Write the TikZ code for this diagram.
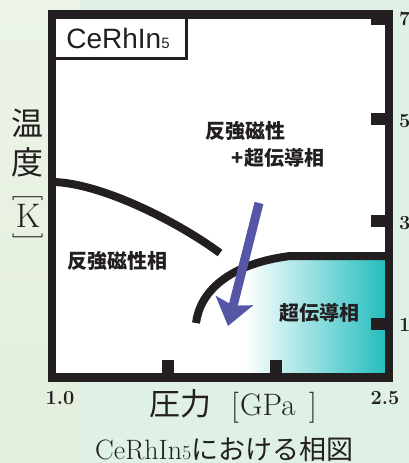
\documentclass[tikz,border=0pt]{standalone}
\usepackage{fontspec}
\newfontfamily\jp{Noto Sans CJK JP}
\newfontfamily\hel{Liberation Sans}
\usetikzlibrary{arrows.meta}
\definecolor{bgA}{HTML}{DFF0E5}
\definecolor{bgLtop}{HTML}{ECF4E9}
\definecolor{bgLbot}{HTML}{E3EEDB}
\definecolor{ink}{HTML}{231F20}
\definecolor{sccol}{RGB}{35,189,190}
\definecolor{arrowc}{RGB}{85,87,166}
\begin{document}
\begin{tikzpicture}[x=1pt,y=-1pt,
  jlabel/.style={font=\jp\bfseries\fontsize{20}{24}\selectfont, text=ink, inner sep=0},
  axnum/.style={font=\bfseries\fontsize{20}{24}\selectfont, text=ink, inner sep=0},
  plain/.style={text=ink, inner sep=0},
  boundary/.style={draw=ink, line width=8},
  tickmark/.style={fill=ink}]
\useasboundingbox (0,0) rectangle (409,463);
% background
\fill[bgA] (0,0) rectangle (409,463);
\shade[top color=bgLtop, bottom color=bgLbot] (0,0) rectangle (80,463);
% plot interior
\fill[white] (52,14.5) rectangle (389,377.5);
% superconducting region
\begin{scope}
  \clip (196,322) .. controls (200,292) and (228,264) .. (290,256) -- (392,256) -- (392,380) -- (196,380) -- cycle;
  \shade[left color=white, right color=sccol] (245,250) rectangle (386,376);
\end{scope}
% phase boundaries
\coordinate (afmA) at (53,182);
\coordinate (afmB) at (220,253);
\draw[boundary] (afmA) .. controls (100,183) and (175,220) .. (afmB);
\coordinate (scA) at (196,323);
\coordinate (scB) at (387,256);
\draw[boundary] (scA) .. controls (200,292) and (228,264) .. (290,256) -- (scB);
% arrow
\coordinate (arA) at (259,203);
\coordinate (arB) at (228,326);
\draw[draw=arrowc, line width=9, -{Stealth[length=26pt,width=38pt,inset=5pt,fill=arrowc]}] (arA) -- (arB);
% ticks
\fill[tickmark] (371,17) rectangle (386,25);
\fill[tickmark] (371,113) rectangle (386,125);
\fill[tickmark] (371,215) rectangle (386,227);
\fill[tickmark] (371,318) rectangle (386,330);
\fill[tickmark] (162,360) rectangle (174,374);
\fill[tickmark] (270,360) rectangle (282,374);
% label box
\draw[draw=ink, line width=3, fill=white] (54,16) rectangle (186.5,58);
\node[plain, anchor=base, font=\hel\fontsize{28}{30}\selectfont] (name) at (118,48) {CeRhIn{\fontsize{15}{18}\selectfont 5}};
% frame
\draw[draw=ink, line width=8.5] (52,14.5) rectangle (389,377.5);
% phase labels
\node[jlabel] (afmsc1) at (245,131) {反強磁性};
\node[jlabel] (afmsc2) at (278,157.5) {+超伝導相};
\node[jlabel] (afm) at (117,261) {反強磁性相};
\node[jlabel] (sc) at (319,313) {超伝導相};
% right axis numbers
\node[axnum, anchor=base west] (t7) at (399,25) {7};
\node[axnum, anchor=base west] (t5) at (399,127) {5};
\node[axnum, anchor=base west] (t3) at (399,229) {3};
\node[axnum, anchor=base west] (t1) at (399,331) {1};
% bottom axis numbers
\node[axnum, anchor=base] (p1) at (60,404) {1.0};
\node[axnum, anchor=base] (p2) at (385,404) {2.5};
% x axis label
\node[plain, anchor=base west, font=\jp\fontsize{31}{36}\selectfont] (xl1) at (149,415) {圧力};
\node[plain, anchor=base west, font=\fontsize{31}{36}\selectfont] (xl2) at (231,415) {[};
\node[plain, anchor=base west, font=\fontsize{31}{36}\selectfont] (xl3) at (240,415) {GPa};
\node[plain, anchor=base west, font=\fontsize{31}{36}\selectfont] (xl4) at (309,415) {]};
% y axis label
\node[plain, font=\jp\fontsize{32}{36}\selectfont] (yl1) at (28,123) {温};
\node[plain, font=\jp\fontsize{32}{36}\selectfont] (yl2) at (28,162) {度};
\node[plain, rotate=-90, font=\fontsize{30}{34}\selectfont] (yl3) at (28,197) {[};
\node[plain, font=\fontsize{34}{38}\selectfont] (yl4) at (28,216) {K};
\node[plain, rotate=-90, font=\fontsize{30}{34}\selectfont] (yl5) at (28,237) {]};
% caption
\node[plain, anchor=base west, font=\fontsize{28}{32}\selectfont] (cap) at (95,459.5) {CeRhIn{\fontsize{20}{24}\selectfont 5}{\jp\fontsize{27}{30}\selectfont における相図}};
\end{tikzpicture}
\end{document}
